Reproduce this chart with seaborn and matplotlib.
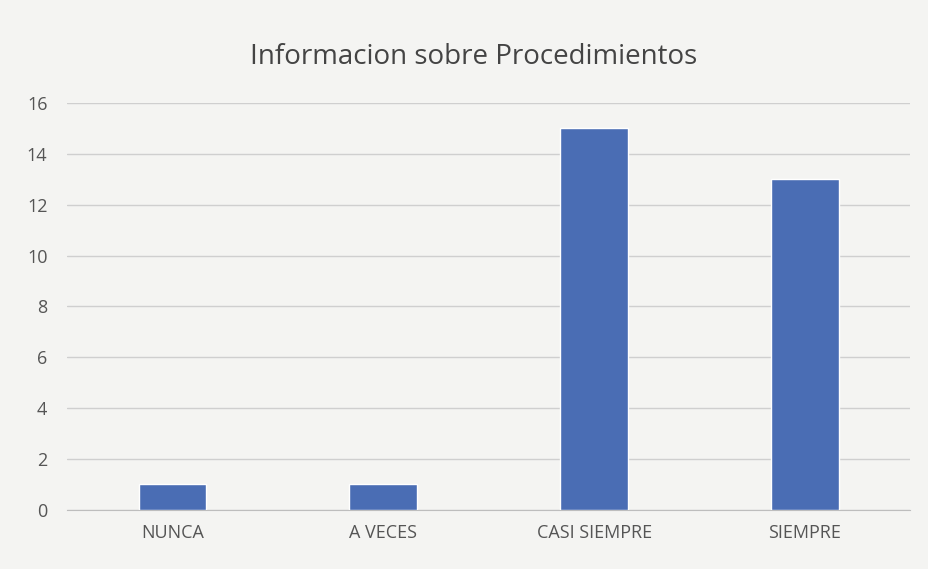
import pandas as pd
import matplotlib
matplotlib.use("Agg")
import matplotlib.pyplot as plt
import seaborn as sns

# data
categories = ["NUNCA", "A VECES", "CASI SIEMPRE", "SIEMPRE"]
counts = [1, 1, 15, 13]
y_ticks = [0, 2, 4, 6, 8, 10, 12, 14, 16]

df = pd.DataFrame({"respuesta": categories, "n": counts})

sns.set_style("white")
plt.rcParams["font.family"] = ["Open Sans", "DejaVu Sans"]

fig = plt.figure(figsize=(9.29, 5.69), dpi=100)
fig.patch.set_facecolor("#f4f4f2")
ax = fig.add_axes([0.072, 0.104, 0.908, 0.715])
ax.set_facecolor("#f4f4f2")

sns.barplot(data=df, x="respuesta", y="n", color="#4a6db4", width=0.32,
            saturation=1, ax=ax, zorder=3)

ax.set_ylim(0, 16)
ax.set_xlim(-0.5, 3.5)
ax.set_yticks(y_ticks)
ax.grid(True, axis="y", color="#cfcfcf", linewidth=1, zorder=0)
for side in ["top", "right", "left"]:
    ax.spines[side].set_visible(False)
ax.spines["bottom"].set_color("#bdbdbd")
ax.tick_params(axis="y", length=0, labelsize=13, colors="#555555", pad=14)
ax.tick_params(axis="x", length=0, labelsize=13, colors="#555555", pad=10)
ax.set_xlabel("")
ax.set_ylabel("")

fig.text(0.51, 0.9, "Informacion sobre Procedimientos", ha="center", va="center",
         fontsize=20, color="#444444")

fig.savefig("out.png", dpi=100, facecolor=fig.get_facecolor())
